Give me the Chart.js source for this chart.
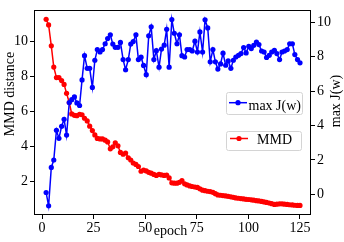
<!DOCTYPE html>
<html><head><meta charset="utf-8">
<script src="https://cdn.jsdelivr.net/npm/chart.js@4"></script>
<style>html,body{margin:0;padding:0;background:#fff}</style>
</head><body>
<canvas id="c" width="344" height="242"></canvas>
<script>
const epochs = [2.0,3.2,4.5,5.7,7.0,8.2,9.5,10.7,11.9,13.2,14.4,15.7,16.9,18.2,19.4,20.6,21.9,23.1,24.4,25.6,
26.8,28.1,29.3,30.6,31.8,33.1,34.3,35.5,36.8,38.0,39.3,40.5,41.8,43.0,44.2,45.5,46.7,48.0,49.2,50.5,
51.7,52.9,54.2,55.4,56.7,57.9,59.2,60.4,61.6,62.9,64.1,65.4,66.6,67.8,69.1,70.3,71.6,72.8,74.1,75.3,
76.5,77.8,79.0,80.3,81.5,82.8,84.0,85.2,86.5,87.7,89.0,90.2,91.5,92.7,93.9,95.2,96.4,97.7,98.9,100.2,
101.4,102.6,103.9,105.1,106.4,107.6,108.8,110.1,111.3,112.6,113.8,115.1,116.3,117.5,118.8,120.0,121.3,122.5,123.8,125.0];

const maxJw = [0.10,-0.67,1.56,1.99,3.72,3.25,3.95,4.36,3.44,5.33,
5.50,5.66,5.31,5.16,6.65,8.06,7.32,7.32,6.21,7.79,
8.41,8.27,8.41,8.75,9.05,9.27,8.73,8.54,8.54,8.83,
7.83,7.24,7.83,8.73,8.88,9.27,7.83,7.97,7.49,6.95,
9.21,9.74,7.83,8.35,7.39,8.44,8.67,9.59,7.39,10.16,
9.36,8.75,9.27,8.06,7.98,8.41,8.41,8.33,8.90,8.27,
9.44,8.27,10.14,9.67,7.70,8.41,7.70,7.28,7.58,8.20,
7.50,7.75,7.32,7.79,7.98,8.08,8.18,8.53,8.22,8.60,
8.47,8.66,8.85,8.70,8.33,8.27,7.95,8.08,8.27,8.37,
8.18,7.83,8.27,8.33,8.41,8.75,8.75,8.12,7.83,7.64];

const mmdDistance = [11.24,10.92,9.73,8.52,7.92,7.92,7.75,7.53,7.02,6.50,
5.85,5.77,5.75,5.83,5.80,5.60,5.45,5.15,4.90,4.65,
4.45,4.42,4.42,4.35,4.25,3.86,3.97,4.20,4.03,3.65,
3.55,3.62,3.35,3.22,3.05,2.97,2.85,2.58,2.65,2.60,
2.52,2.47,2.40,2.34,2.40,2.37,2.34,2.36,2.20,1.92,
1.90,1.90,1.95,2.05,1.86,1.80,1.74,1.71,1.68,1.66,
1.58,1.50,1.47,1.44,1.42,1.38,1.30,1.23,1.21,1.19,
1.17,1.15,1.12,1.09,1.06,1.04,1.02,1.00,0.98,0.97,
0.95,0.93,0.90,0.89,0.86,0.83,0.80,0.77,0.73,0.69,
0.70,0.72,0.72,0.70,0.69,0.67,0.66,0.64,0.63,0.63];

const xTicks = [0,25,50,75,100,125];
const leftTicks = [2,4,6,8,10];
const rightTicks = [0,2,4,6,8,10];
const xTitle = 'epoch';
const leftTitle = 'MMD distance';
const rightTitle = 'max J(w)';
const seriesNames = ['max J(w)','MMD'];

const FONT = "'Liberation Serif','Times New Roman',serif";
const BLUE = '#0000ff', RED = '#ff0000';

function pts(ys){ return epochs.map((e,i)=>({x:e,y:ys[i]})); }

const decorPlugin = {
  id:'decor',
  afterDraw(chart){
    const ctx = chart.ctx, a = chart.chartArea;
    ctx.save();
    // frame
    ctx.strokeStyle = '#000'; ctx.lineWidth = 1;
    ctx.strokeRect(Math.round(a.left)+0.5, Math.round(a.top)+0.5, Math.round(a.right-a.left)-1, Math.round(a.bottom-a.top)-1);
    // axis titles
    ctx.fillStyle = '#000';
    ctx.font = '14px ' + FONT;
    ctx.textAlign = 'center'; ctx.textBaseline = 'alphabetic';
    ctx.fillText(xTitle, 170.5, 235);
    ctx.textBaseline = 'middle';
    ctx.save(); ctx.translate(10.5, 94); ctx.rotate(-Math.PI/2); ctx.fillText(leftTitle, 0, 0); ctx.restore();
    ctx.save(); ctx.translate(336, 101); ctx.rotate(-Math.PI/2); ctx.fillText(rightTitle, 0, 0); ctx.restore();
    // legends
    function legend(bx, by, bw, bh, color, ly, lx1, lx2, text, tx, ty){
      ctx.fillStyle = '#fff'; ctx.strokeStyle = '#d4d4d4'; ctx.lineWidth = 1;
      ctx.beginPath(); ctx.roundRect(bx+0.5, by+0.5, bw, bh, 2); ctx.fill(); ctx.stroke();
      ctx.strokeStyle = color; ctx.lineWidth = 1.5;
      ctx.beginPath(); ctx.moveTo(lx1, ly); ctx.lineTo(lx2, ly); ctx.stroke();
      ctx.fillStyle = color; ctx.beginPath(); ctx.arc((lx1+lx2)/2, ly, 2.6, 0, Math.PI*2); ctx.fill();
      ctx.fillStyle = '#000'; ctx.font = '14px ' + FONT; ctx.textAlign = 'left'; ctx.textBaseline = 'alphabetic';
      ctx.fillText(text, tx, ty);
    }
    legend(226, 92, 76, 22, BLUE, 102.7, 229, 247, seriesNames[0], 248.5, 109.5);
    legend(226, 131, 75, 19, RED, 138.5, 230, 248, seriesNames[1], 257, 144.3);
    ctx.restore();
  }
};

const tickFont = {family: FONT, size: 14};
new Chart(document.getElementById('c'), {
  type:'line',
  data:{ datasets:[
    {label:seriesNames[0], data:pts(maxJw), yAxisID:'yR', borderColor:BLUE, backgroundColor:BLUE,
     borderWidth:1.5, pointRadius:2.6, pointBorderWidth:0, pointBackgroundColor:BLUE, tension:0},
    {label:seriesNames[1], data:pts(mmdDistance), yAxisID:'yL', borderColor:RED, backgroundColor:RED,
     borderWidth:1.5, pointRadius:2.6, pointBorderWidth:0, pointBackgroundColor:RED, tension:0}
  ]},
  options:{
    responsive:false, animation:false, devicePixelRatio:1,
    layout:{padding:{top:8,left:0,right:0,bottom:0}},
    plugins:{legend:{display:false}, tooltip:{enabled:false}},
    scales:{
      x:{type:'linear', min:-3.88, max:130.33,
         afterBuildTicks:s=>{s.ticks = xTicks.map(v=>({value:v}));},
         afterFit:s=>{s.height = 27;},
         grid:{drawOnChartArea:false, drawTicks:true, tickLength:4, color:'#000', tickColor:'#000'},
         border:{display:false},
         ticks:{font:tickFont, color:'#000', padding:1, maxRotation:0, autoSkip:false}},
      yL:{type:'linear', position:'left', min:0.085, max:11.75,
         afterBuildTicks:s=>{s.ticks = leftTicks.map(v=>({value:v}));},
         afterFit:s=>{s.width = 34;},
         grid:{drawOnChartArea:false, drawTicks:true, tickLength:4, color:'#000', tickColor:'#000'},
         border:{display:false},
         ticks:{font:tickFont, color:'#000', padding:2, autoSkip:false}},
      yR:{type:'linear', position:'right', min:-1.207, max:10.69,
         afterBuildTicks:s=>{s.ticks = rightTicks.map(v=>({value:v}));},
         afterFit:s=>{s.width = 33;},
         grid:{drawOnChartArea:false, drawTicks:true, tickLength:4, color:'#000', tickColor:'#000'},
         border:{display:false},
         ticks:{font:tickFont, color:'#000', padding:2, autoSkip:false}}
    }
  },
  plugins:[decorPlugin]
});
</script>
</body></html>
